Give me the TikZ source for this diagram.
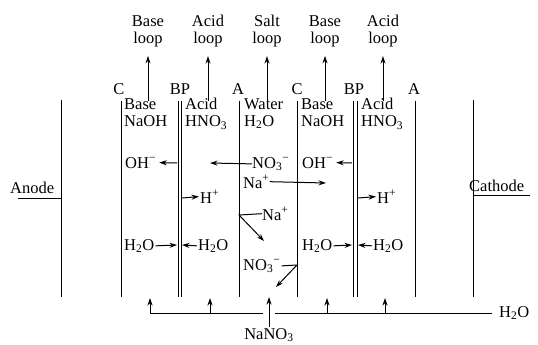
\documentclass[tikz,border=0pt]{standalone}
\usepackage{fontspec}
\setmainfont{Liberation Serif}
\usetikzlibrary{arrows.meta}
\begin{document}
\begin{tikzpicture}[x=1pt,y=-1pt,
  mem/.style={line width=0.85pt},
  arr/.style={line width=1pt,-{Stealth[length=7.5pt,width=5pt]}},
  plain/.style={line width=1pt},
  txt/.style={font=\fontsize{16.5}{17}\selectfont, inner sep=0pt},
  lbl/.style={txt, align=center},
  comp/.style={txt, align=left, anchor=north west}]
\useasboundingbox (0,0) rectangle (538,345);
% electrodes and membranes
\coordinate (anT) at (61,100);  \coordinate (anB) at (61,297);
\coordinate (c1T) at (121,101); \coordinate (c1B) at (121,297);
\coordinate (b1aT) at (178,101); \coordinate (b1aB) at (178,297);
\coordinate (b1bT) at (181,101); \coordinate (b1bB) at (181,297);
\coordinate (a1T) at (239,101); \coordinate (a1B) at (239,297);
\coordinate (c2T) at (297,101); \coordinate (c2B) at (297,297);
\coordinate (b2aT) at (353,101); \coordinate (b2aB) at (353,297);
\coordinate (b2bT) at (357,101); \coordinate (b2bB) at (357,297);
\coordinate (a2T) at (415,101); \coordinate (a2B) at (415,297);
\coordinate (caT) at (473,100); \coordinate (caB) at (473,297);
\foreach \m in {an,c1,b1a,b1b,a1,c2,b2a,b2b,a2,ca}{\draw[mem] (\m T) -- (\m B);}
% electrode labels
\node[txt, anchor=base west] (anode) at (10,193) {Anode};
\coordinate (anL) at (18,198); \coordinate (anR) at (61,198);
\draw[mem] (anL) -- (anR);
\node[txt, anchor=base west] (cathode) at (469,191) {Cathode};
\coordinate (caL) at (473,195); \coordinate (caR) at (530,195);
\draw[mem] (caL) -- (caR);
% membrane letters
\node[txt, anchor=base] (mC1) at (119,94) {C};
\node[txt, anchor=base] (mB1) at (180,94) {BP};
\node[txt, anchor=base] (mA1) at (238,94) {A};
\node[txt, anchor=base] (mC2) at (297,94) {C};
\node[txt, anchor=base] (mB2) at (354,94) {BP};
\node[txt, anchor=base] (mA2) at (414,94) {A};
% loops
\node[lbl] (L1) at (148,31) {Base\\loop};
\node[lbl] (L2) at (208,31) {Acid\\loop};
\node[lbl] (L3) at (267,31) {Salt\\loop};
\node[lbl] (L4) at (325,31) {Base\\loop};
\node[lbl] (L5) at (383,31) {Acid\\loop};
\foreach \i/\x in {1/148,2/208,3/267,4/325,5/383}{
  \coordinate (s\i) at (\x,101);
  \draw[arr] (s\i) -- ([yshift=-9pt]L\i.south);}
% compartment contents
\node[comp] (k1) at (124,98) {Base\\NaOH};
\node[comp] (k2) at (185,98) {Acid\\HNO\textsubscript{3}};
\node[comp] (k3) at (244,98) {Water\\H\textsubscript{2}O};
\node[comp] (k4) at (301,98) {Base\\NaOH};
\node[comp] (k5) at (361,98) {Acid\\HNO\textsubscript{3}};
% ions row 1
\node[txt, anchor=base west] (oh1) at (125,168) {OH\textsuperscript{−}};
\coordinate (p1) at (177,163);
\draw[arr] (p1) -- ([xshift=3pt]oh1.east);
\node[txt, anchor=base west] (no1) at (252,168) {NO\textsubscript{3}\textsuperscript{−}};
\coordinate (p2) at (210,163);
\draw[arr] (no1.west) -- (p2);
\node[txt, anchor=base west] (oh2) at (302,168) {OH\textsuperscript{−}};
\coordinate (p3) at (352,163);
\draw[arr] (p3) -- ([xshift=3pt]oh2.east);
% row 2
\node[txt, anchor=base west] (na1) at (243,188) {Na\textsuperscript{+}};
\coordinate (p4) at (326,183);
\draw[arr] (na1.east) -- (p4);
% row 3
\node[txt, anchor=base west] (h1) at (200,203) {H\textsuperscript{+}};
\coordinate (p5) at (182,198);
\draw[arr] (p5) -- ([xshift=-1pt]h1.west);
\node[txt, anchor=base west] (h2) at (377,203) {H\textsuperscript{+}};
\coordinate (p6) at (358,198);
\draw[arr] (p6) -- ([xshift=-1pt]h2.west);
% row 4
\node[txt, anchor=base west] (na2) at (262,220) {Na\textsuperscript{+}};
\coordinate (p7) at (239,215); \coordinate (p8) at (264,241);
\draw[arr] (na2.west) -- (p7) -- (p8);
% row 5
\node[txt, anchor=base west] (w1) at (124,250) {H\textsubscript{2}O};
\node[txt, anchor=base west] (w2) at (198,250) {H\textsubscript{2}O};
\node[txt, anchor=base west] (w3) at (302,250) {H\textsubscript{2}O};
\node[txt, anchor=base west] (w4) at (373,250) {H\textsubscript{2}O};
\coordinate (q1) at (177,245); \coordinate (q2) at (182,245);
\coordinate (q3) at (352,245); \coordinate (q4) at (358,245);
\draw[arr] ([xshift=1pt]w1.east) -- (q1);
\draw[arr] ([xshift=-1pt]w2.west) -- (q2);
\draw[arr] ([xshift=1pt]w3.east) -- (q3);
\draw[arr] ([xshift=-1pt]w4.west) -- (q4);
% row 6
\node[txt, anchor=base west] (no2) at (243,270) {NO\textsubscript{3}\textsuperscript{−}};
\coordinate (p9) at (297,265); \coordinate (p10) at (276,287);
\draw[arr] ([xshift=1pt]no2.east) -- (p9) -- (p10);
% bottom feed
\node[txt, anchor=west] (wr) at (499,313) {H\textsubscript{2}O};
\coordinate (f0) at (275,313); \coordinate (f1) at (263,313);
\coordinate (f2) at (150,313); \coordinate (f2t) at (150,298);
\draw[plain] ([xshift=-7pt]wr.west) -- (f0);
\draw[arr] (f1) -- (f2) -- (f2t);
\foreach \i/\x in {3/210,4/327,5/385}{
  \coordinate (g\i) at (\x,313); \coordinate (t\i) at (\x,298);
  \draw[arr] (g\i) -- (t\i);}
\node[txt, anchor=base] (nano) at (269,339) {NaNO\textsubscript{3}};
\coordinate (nt) at (269,297);
\draw[arr] ([yshift=1pt]nano.north) -- (nt);
\end{tikzpicture}
\end{document}
